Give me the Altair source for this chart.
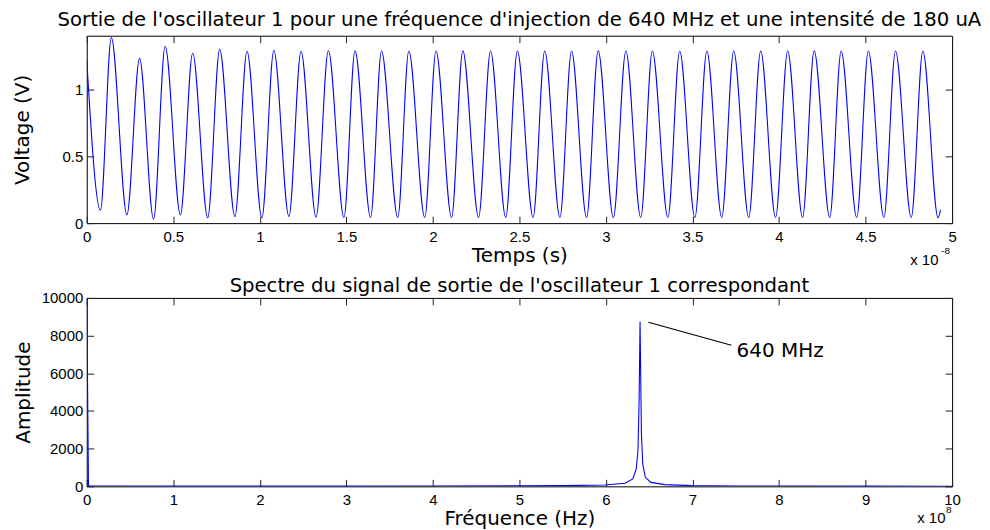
import altair as alt
import pandas as pd

# ---------------- data ----------------
# top panel: time (in units of 1e-8 s) and voltage (V) at the extrema of the waveform
t_e8 = [0.000, 0.079, 0.142, 0.232, 0.305, 0.386, 0.453, 0.541, 0.612, 0.699,
        0.768, 0.856, 0.926, 1.012, 1.081, 1.168, 1.238, 1.325, 1.396, 1.486,
        1.550, 1.640, 1.703, 1.797, 1.861, 1.953, 2.018, 2.108, 2.173, 2.264,
        2.333, 2.421, 2.488, 2.579, 2.646, 2.734, 2.801, 2.888, 2.955, 3.043,
        3.115, 3.201, 3.268, 3.358, 3.426, 3.514, 3.583, 3.669, 3.738, 3.825,
        3.894, 3.980, 4.050, 4.136, 4.203, 4.293, 4.359, 4.449, 4.516, 4.606,
        4.673, 4.764, 4.831, 4.919, 4.933]
volt = [1.216, 0.097, 1.386, 0.062, 1.231, 0.030, 1.321, 0.062, 1.269, 0.040,
        1.298, 0.050, 1.284, 0.040, 1.291, 0.050, 1.284, 0.045, 1.290, 0.042,
        1.287, 0.042, 1.286, 0.043, 1.286, 0.042, 1.286, 0.042, 1.287, 0.042,
        1.286, 0.043, 1.286, 0.042, 1.286, 0.042, 1.286, 0.042, 1.287, 0.042,
        1.286, 0.042, 1.286, 0.042, 1.286, 0.043, 1.286, 0.042, 1.286, 0.042,
        1.286, 0.042, 1.286, 0.042, 1.287, 0.042, 1.286, 0.042, 1.286, 0.042,
        1.286, 0.042, 1.286, 0.040, 0.100]

# bottom panel: frequency (in units of 1e8 Hz) and spectrum amplitude
freq_e8 = [0.0, 0.02, 1.0, 2.0, 3.0, 4.0, 5.0, 5.5, 5.99, 6.22, 6.31, 6.35,
           6.37, 6.383, 6.394, 6.41, 6.425, 6.455, 6.52, 6.68, 6.99, 7.5, 8.0,
           9.0, 10.0]
amp = [13000, 20, 10, 10, 12, 15, 25, 40, 74, 160, 390, 920,
       1890, 4540, 8730, 2780, 1190, 480, 210, 90, 37, 20, 15,
       10, 8]

# annotation of the peak
ann_f = [6.49, 7.45]
ann_a = [8710, 7490]
ann_text_f = [7.51]
ann_text_a = [7190]
ann_label = ["640 MHz"]

# ticks and texts
top_x_ticks = [0, 0.5, 1, 1.5, 2, 2.5, 3, 3.5, 4, 4.5, 5]
top_y_ticks = [0, 0.5, 1]
bot_x_ticks = [0, 1, 2, 3, 4, 5, 6, 7, 8, 9, 10]
bot_y_ticks = [0, 2000, 4000, 6000, 8000, 10000]

title_top = "Sortie de l'oscillateur 1 pour une fréquence d'injection de 640 MHz et une intensité de 180 uA"
title_bot = "Spectre du signal de sortie de l'oscillateur 1 correspondant"
xlab_top = "Temps (s)"
ylab_top = "Voltage (V)"
xlab_bot = "Fréquence (Hz)"
ylab_bot = "Amplitude"
mult_base = ["x 10"]
mult_top_exp = ["-8"]
mult_bot_exp = ["8"]

# ---------------- style ----------------
BLUE = "#0000ff"
TICK = 7
W = 868
TFONT = "DejaVu Sans"
LFONT = "Liberation Sans"


def ax(orient, values, fmt, title=None, lp=4, tp=2, labels=True):
    kw = dict(orient=orient, values=values, offset=-TICK, tickSize=TICK,
              tickColor="#222222", tickWidth=1, domain=False, grid=False,
              labelFlush=False, labelOverlap=False, labelFont=LFONT,
              labelFontSize=15, labelColor="black", format=fmt,
              labelPadding=lp, labels=labels)
    if title is not None:
        kw.update(title=title, titleFont=TFONT, titleFontSize=20,
                  titleFontWeight="normal", titleColor="black", titlePadding=tp)
    else:
        kw.update(title=None)
    return alt.Axis(**kw)


def panel(df, xf, yf, xdom, ydom, xt, yt, xfmt, yfmt, xlab, ylab, ytp, title,
          toff, h, interp, extra):
    xs = alt.Scale(domain=xdom, nice=False, zero=False, clamp=True)
    ys = alt.Scale(domain=ydom, nice=False, zero=False, clamp=True)
    line = alt.Chart(df).mark_line(color=BLUE, strokeWidth=1.1,
                                   interpolate=interp, clip=True).encode(
        x=alt.X(f"{xf}:Q", scale=xs, axis=ax("bottom", xt, xfmt, xlab, lp=6, tp=1)),
        y=alt.Y(f"{yf}:Q", scale=ys, axis=ax("left", yt, yfmt, ylab, lp=4, tp=ytp)),
    )
    frame = alt.Chart(df).mark_line(opacity=0).encode(
        x=alt.X(f"{xf}:Q", scale=xs, axis=ax("top", xt, xfmt, labels=False)),
        y=alt.Y(f"{yf}:Q", scale=ys, axis=ax("right", yt, yfmt, labels=False)),
    )
    layers = [line, frame] + extra
    return alt.layer(*layers).resolve_axis(x="independent", y="independent").properties(
        width=W, height=h,
        title=alt.TitleParams(title, font=TFONT, fontSize=19.7, fontWeight="normal",
                              color="black", anchor="middle", offset=toff),
    )


def txt(s, x, y, size):
    return alt.Chart(pd.DataFrame({"s": s})).mark_text(
        font=LFONT, fontSize=size, align="left", baseline="middle", color="black"
    ).encode(text="s:N", x=alt.value(x), y=alt.value(y))


df_top = pd.DataFrame({"t": t_e8, "v": volt})
df_bot = pd.DataFrame({"f": freq_e8, "a": amp})
df_ann = pd.DataFrame({"f": [ann_f[0]], "a": [ann_a[0]], "f2": [ann_f[1]], "a2": [ann_a[1]]})
df_ann_t = pd.DataFrame({"f": ann_text_f, "a": ann_text_a, "s": ann_label})

top = panel(df_top, "t", "v", [0, 5], [0, 1.4], top_x_ticks, top_y_ticks, "~g", "~g",
            xlab_top, ylab_top, 30, title_top, 6, 188, "monotone",
            [txt(mult_base, 826, 225, 15), txt(mult_top_exp, 857, 216, 10)])

ann_rule = alt.Chart(df_ann).mark_rule(color="black", strokeWidth=1.2).encode(
    x=alt.X("f:Q", axis=None), y=alt.Y("a:Q", axis=None), x2="f2:Q", y2="a2:Q")
ann_txt = alt.Chart(df_ann_t).mark_text(font=TFONT, fontSize=20, align="left",
                                        baseline="middle", color="black").encode(
    x=alt.X("f:Q", axis=None), y=alt.Y("a:Q", axis=None), text="s:N")

bot = panel(df_bot, "f", "a", [0, 10], [0, 10000], bot_x_ticks, bot_y_ticks, "d", "d",
            xlab_bot, ylab_bot, 8, title_bot, -5, 189, "linear",
            [ann_rule, ann_txt, txt(mult_base, 833, 221, 15), txt(mult_bot_exp, 862, 213, 10)])

chart = alt.vconcat(top, bot, spacing=6).properties(
    padding={"left": 3, "top": 0, "right": 0, "bottom": 0},
    background="white",
).configure_view(stroke="black", strokeWidth=1)

chart.save("out.html", embed_options={"renderer": "svg", "actions": False})
